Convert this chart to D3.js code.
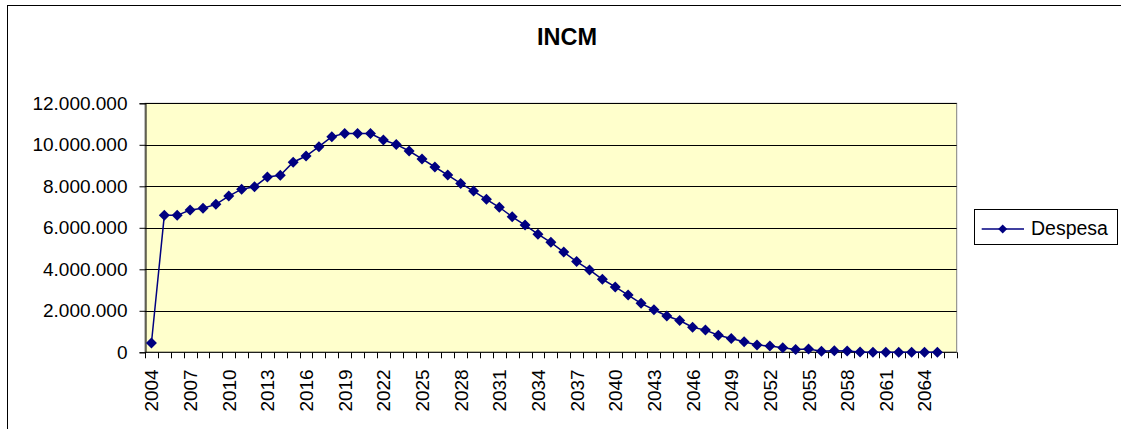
<!DOCTYPE html>
<html>
<head>
<meta charset="utf-8">
<script src="https://cdn.jsdelivr.net/npm/d3@7"></script>
<style>
  html, body { margin: 0; padding: 0; background: #ffffff; }
  svg { display: block; font-family: "Liberation Sans", Arial, sans-serif; }
</style>
</head>
<body>
<svg id="chart" width="1121" height="429"></svg>
<script>
// ---- data ----
const title = "INCM";
const seriesName = "Despesa";
const years = d3.range(2004, 2067); // categories 2004..2066
const despesa = [
  450000, 6600000, 6600000, 6860000, 6940000, 7130000, 7530000, 7860000, 7980000, 8450000,
  8530000, 9160000, 9460000, 9910000, 10390000, 10550000, 10550000, 10540000, 10230000, 10020000,
  9700000, 9320000, 8930000, 8540000, 8140000, 7770000, 7370000, 6990000, 6530000, 6130000,
  5690000, 5300000, 4830000, 4370000, 3970000, 3520000, 3150000, 2760000, 2360000, 2050000,
  1750000, 1530000, 1210000, 1070000, 820000, 670000, 510000, 350000, 300000, 220000,
  140000, 160000, 50000, 70000, 60000, 10000, 8000, 6000, 5000, 4000,
  3000, 2000, null
];
const yTicks = [0, 2000000, 4000000, 6000000, 8000000, 10000000, 12000000];
const xLabelYears = years.filter(y => (y - 2004) % 3 === 0);

// ---- layout ----
const svg = d3.select("#chart");
const plot = { left: 145, right: 956.7, top: 103.3, bottom: 352.3 };

// outer frame
svg.append("rect")
  .attr("x", 7.5).attr("y", 5.5).attr("width", 1130).attr("height", 440)
  .attr("fill", "#ffffff").attr("stroke", "#000000").attr("stroke-width", 1);

const x = d3.scaleBand().domain(years).range([plot.left, plot.right]).padding(0);
const y = d3.scaleLinear().domain([0, 12000000]).range([plot.bottom, plot.top]);

// plot background
svg.append("rect")
  .attr("x", plot.left).attr("y", plot.top)
  .attr("width", plot.right - plot.left).attr("height", plot.bottom - plot.top)
  .attr("fill", "#FFFFCC").attr("stroke", "#808080").attr("stroke-width", 1);

// gridlines
svg.append("g").selectAll("line").data(yTicks.filter(d => d > 0)).join("line")
  .attr("x1", plot.left).attr("x2", plot.right)
  .attr("y1", d => Math.round(y(d)) + 0.5).attr("y2", d => Math.round(y(d)) + 0.5)
  .attr("stroke", "#000000").attr("stroke-width", 1);

// y axis
const fmt = d => d3.format(",")(d).replace(/,/g, ".");
const yAxis = d3.axisLeft(y).tickValues(yTicks).tickFormat(fmt).tickSize(6).tickPadding(12);
const gy = svg.append("g").attr("transform", `translate(${plot.left + 0.5},0)`).call(yAxis);
gy.select(".domain").attr("stroke", "#000");
gy.selectAll(".tick line").attr("stroke", "#000");
gy.selectAll(".tick text").attr("font-size", "19px").attr("fill", "#000")
  .attr("font-family", "'Liberation Sans', Arial, sans-serif");

// x axis: ticks at category boundaries
const boundaries = years.map(d => x(d)).concat([plot.right]);
const gx = svg.append("g");
gx.append("line").attr("x1", plot.left).attr("x2", plot.right)
  .attr("y1", plot.bottom).attr("y2", plot.bottom).attr("stroke", "#000");
gx.selectAll("line.tk").data(boundaries).join("line").attr("class", "tk")
  .attr("x1", d => Math.round(d) + 0.5).attr("x2", d => Math.round(d) + 0.5)
  .attr("y1", plot.bottom).attr("y2", plot.bottom + 6).attr("stroke", "#000");
gx.selectAll("text").data(xLabelYears).join("text")
  .attr("transform", d => `translate(${x(d) + x.bandwidth() / 2 + 7},${plot.bottom + 17}) rotate(-90)`)
  .attr("text-anchor", "end")
  .attr("font-size", "19px").attr("fill", "#000")
  .text(d => d);

// line + markers
const pts = years.map((yr, i) => ({ yr, v: despesa[i] })).filter(d => d.v !== null);
const line = d3.line().x(d => x(d.yr) + x.bandwidth() / 2).y(d => y(d.v));
svg.append("path").datum(pts).attr("d", line)
  .attr("fill", "none").attr("stroke", "#000080").attr("stroke-width", 1.5);

const diamond = "M0,-5.5L5.5,0L0,5.5L-5.5,0Z";
svg.append("g").selectAll("path").data(pts).join("path")
  .attr("d", diamond)
  .attr("transform", d => `translate(${x(d.yr) + x.bandwidth() / 2},${y(d.v)})`)
  .attr("fill", "#000080");

// title
svg.append("text").attr("x", 567).attr("y", 44.5).attr("text-anchor", "middle")
  .attr("font-size", "23.5px").attr("font-weight", "bold").attr("fill", "#000")
  .text(title);

// legend
const lg = svg.append("g");
lg.append("rect").attr("x", 974.5).attr("y", 209.5).attr("width", 143).attr("height", 35)
  .attr("fill", "#fff").attr("stroke", "#000").attr("stroke-width", 1);
lg.append("line").attr("x1", 981.7).attr("x2", 1024).attr("y1", 229).attr("y2", 229)
  .attr("stroke", "#000080").attr("stroke-width", 1.5);
lg.append("path").attr("d", "M0,-4.5L4.5,0L0,4.5L-4.5,0Z")
  .attr("transform", "translate(1002.7,229)").attr("fill", "#000080");
lg.append("text").attr("x", 1031).attr("y", 234.5).attr("font-size", "19.5px").attr("fill", "#000")
  .text(seriesName);
</script>
</body>
</html>
